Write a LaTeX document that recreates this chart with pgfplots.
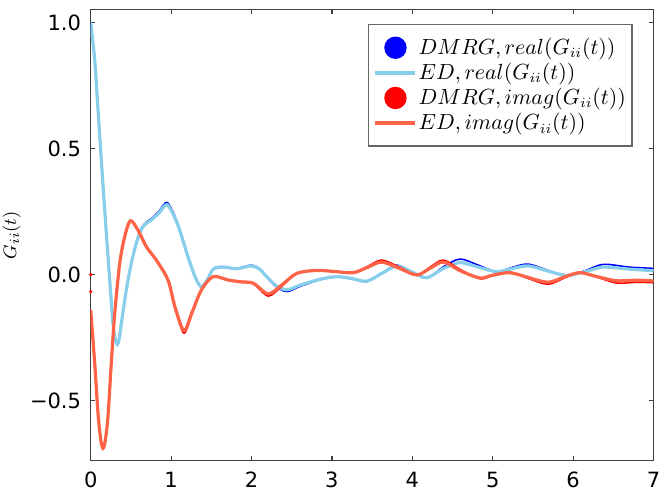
\documentclass[border=0pt]{standalone}
\usepackage{fontspec}
\usepackage{pgfplots}
\usepackage{pgfplotstable}
\pgfplotsset{compat=1.18}
\newfontfamily\dejavu{DejaVu Sans}

\definecolor{dmrgblue}{RGB}{0,0,255}
\definecolor{edblue}{RGB}{135,206,235}
\definecolor{dmrgred}{RGB}{255,0,0}
\definecolor{edred}{RGB}{255,99,71}

% real part, ED
\pgfplotstableread{
t y
0 1.000
0.05 0.852
0.091 0.654
0.132 0.455
0.174 0.257
0.236 -0.021
0.277 -0.193
0.305 -0.255
0.331 -0.276
0.355 -0.255
0.381 -0.193
0.443 -0.061
0.505 0.045
0.567 0.125
0.629 0.180
0.69 0.203
0.754 0.217
0.85 0.245
0.953 0.277
1.08 0.200
1.21 0.071
1.30 -0.010
1.376 -0.048
1.45 -0.020
1.525 0.022
1.649 0.030
1.816 0.024
2.0 0.035
2.1 0.022
2.189 -0.008
2.3 -0.042
2.438 -0.060
2.6 -0.042
2.852 -0.018
3.06 -0.008
3.25 -0.015
3.433 -0.026
3.62 0.005
3.806 0.034
4.0 0.010
4.179 -0.012
4.39 0.025
4.593 0.048
4.82 0.030
5.05 0.012
5.25 0.025
5.443 0.035
5.68 0.015
5.92 -0.003
6.15 0.012
6.376 0.030
6.7 0.022
7.0 0.016
}\edreal

% real part, DMRG
\pgfplotstableread{
t y
0 1.000
0.05 0.852
0.091 0.654
0.132 0.455
0.174 0.257
0.236 -0.021
0.277 -0.193
0.305 -0.256
0.331 -0.278
0.355 -0.256
0.381 -0.193
0.443 -0.060
0.505 0.046
0.567 0.127
0.629 0.184
0.69 0.208
0.754 0.222
0.85 0.252
0.953 0.286
1.08 0.206
1.21 0.074
1.30 -0.010
1.376 -0.050
1.45 -0.020
1.525 0.024
1.649 0.032
1.816 0.025
2.0 0.038
2.1 0.024
2.189 -0.008
2.3 -0.046
2.438 -0.067
2.6 -0.047
2.852 -0.020
3.06 -0.009
3.25 -0.017
3.433 -0.028
3.62 0.006
3.806 0.038
4.0 0.011
4.179 -0.014
4.39 0.032
4.593 0.062
4.82 0.038
5.05 0.012
5.25 0.030
5.443 0.042
5.68 0.018
5.92 -0.005
6.15 0.016
6.376 0.041
6.7 0.030
7.0 0.025
}\dmrgreal

% imaginary part, ED
\pgfplotstableread{
t y
0 -0.140
0.05 -0.352
0.091 -0.550
0.125 -0.655
0.153 -0.689
0.18 -0.660
0.215 -0.563
0.256 -0.352
0.299 -0.153
0.361 0.045
0.423 0.151
0.493 0.214
0.588 0.177
0.692 0.111
0.816 0.058
0.961 -0.021
1.05 -0.130
1.16 -0.222
1.26 -0.150
1.376 -0.061
1.521 -0.008
1.708 -0.021
1.857 -0.028
2.022 -0.034
2.209 -0.076
2.38 -0.040
2.562 0.005
2.811 0.017
3.05 0.012
3.266 0.008
3.45 0.030
3.62 0.050
3.84 0.025
4.055 -0.001
4.22 0.025
4.386 0.050
4.6 0.015
4.842 -0.013
5.0 -0.002
5.215 0.008
5.45 -0.012
5.69 -0.030
5.9 -0.008
6.085 0.008
6.3 -0.008
6.542 -0.024
6.8 -0.022
7.0 -0.025
}\edimag

% imaginary part, DMRG
\pgfplotstableread{
t y
0 -0.140
0.05 -0.352
0.091 -0.550
0.125 -0.656
0.153 -0.690
0.18 -0.661
0.215 -0.563
0.256 -0.352
0.299 -0.153
0.361 0.045
0.423 0.151
0.493 0.215
0.588 0.177
0.692 0.110
0.816 0.056
0.961 -0.024
1.05 -0.136
1.16 -0.232
1.26 -0.156
1.376 -0.063
1.521 -0.009
1.708 -0.022
1.857 -0.030
2.022 -0.036
2.209 -0.085
2.38 -0.045
2.562 0.004
2.811 0.018
3.05 0.013
3.266 0.008
3.45 0.034
3.62 0.058
3.84 0.030
4.055 -0.002
4.22 0.030
4.386 0.058
4.6 0.020
4.842 -0.016
5.0 -0.004
5.215 0.010
5.45 -0.016
5.69 -0.038
5.9 -0.012
6.085 0.010
6.3 -0.010
6.542 -0.033
6.8 -0.030
7.0 -0.032
}\dmrgimag

\begin{document}
\begin{tikzpicture}
\begin{axis}[
    scale only axis,
    width=281.4pt, height=225.6pt,
    xmin=0, xmax=7, ymin=-0.738, ymax=1.052,
    xtick={0,1,2,3,4,5,6,7},
    xticklabels={0,1,2,3,4,5,6,7},
    ytick={-0.5,0,0.5,1},
    yticklabels={−0.5,0.0,0.5,1.0},
    tick label style={font=\dejavu\fontsize{10.5}{12}\selectfont, black},
    xticklabel style={yshift=-2pt},
    yticklabel style={xshift=-1.3pt},
    tick align=inside, tick pos=both,
    major tick length=2.2pt,
    axis line style={black!75, line width=0.6pt},
    every tick/.style={black!75, line width=0.6pt},
    ylabel={$G_{ii}(t)$},
    ylabel style={at={(axis description cs:-0.1405,0.5)}, anchor=center,
        font=\fontsize{9.5}{11}\selectfont, inner sep=0pt},
    legend cell align=left,
    legend style={at={(0.963,0.968)}, anchor=north east,
        draw=black!60, fill=white, line width=0.6pt,
        font=\fontsize{10.5}{12}\selectfont,
        inner xsep=2.5pt, inner ysep=6pt,
        nodes={inner sep=0.6pt}, row sep=1.5pt},
]
    \addplot[dmrgblue, line width=0.8pt, smooth,
        legend image code/.code={\fill[dmrgblue] (10pt,0pt) circle (5.2pt);}]
        table[x=t, y=y] {\dmrgreal};
    \addlegendentry{$DMRG, real(G_{ii}(t))$}
    \addplot[edblue, line width=1.6pt, smooth,
        legend image code/.code={\draw[edblue, line width=2pt] (0pt,0pt) -- (20pt,0pt);}]
        table[x=t, y=y] {\edreal};
    \addlegendentry{$ED, real(G_{ii}(t))$}
    \addplot[dmrgred, line width=0.8pt, smooth,
        legend image code/.code={\fill[dmrgred] (10pt,0pt) circle (5.2pt);}]
        table[x=t, y=y] {\dmrgimag};
    \addlegendentry{$DMRG, imag(G_{ii}(t))$}
    \addplot[edred, line width=1.6pt, smooth,
        legend image code/.code={\draw[edred, line width=2pt] (0pt,0pt) -- (20pt,0pt);}]
        table[x=t, y=y] {\edimag};
    \addlegendentry{$ED, imag(G_{ii}(t))$}
    % first DMRG points of the imaginary part
    \addplot[only marks, mark=*, mark size=0.6pt, dmrgred, forget plot]
        coordinates {(0,0) (0,-0.067)};
\end{axis}
\pgfresetboundingbox
\path ([shift={(-45.35pt,-18.65pt)}]current axis.south west)
    rectangle ([shift={(5.25pt,4.75pt)}]current axis.north east);
\end{tikzpicture}
\end{document}
